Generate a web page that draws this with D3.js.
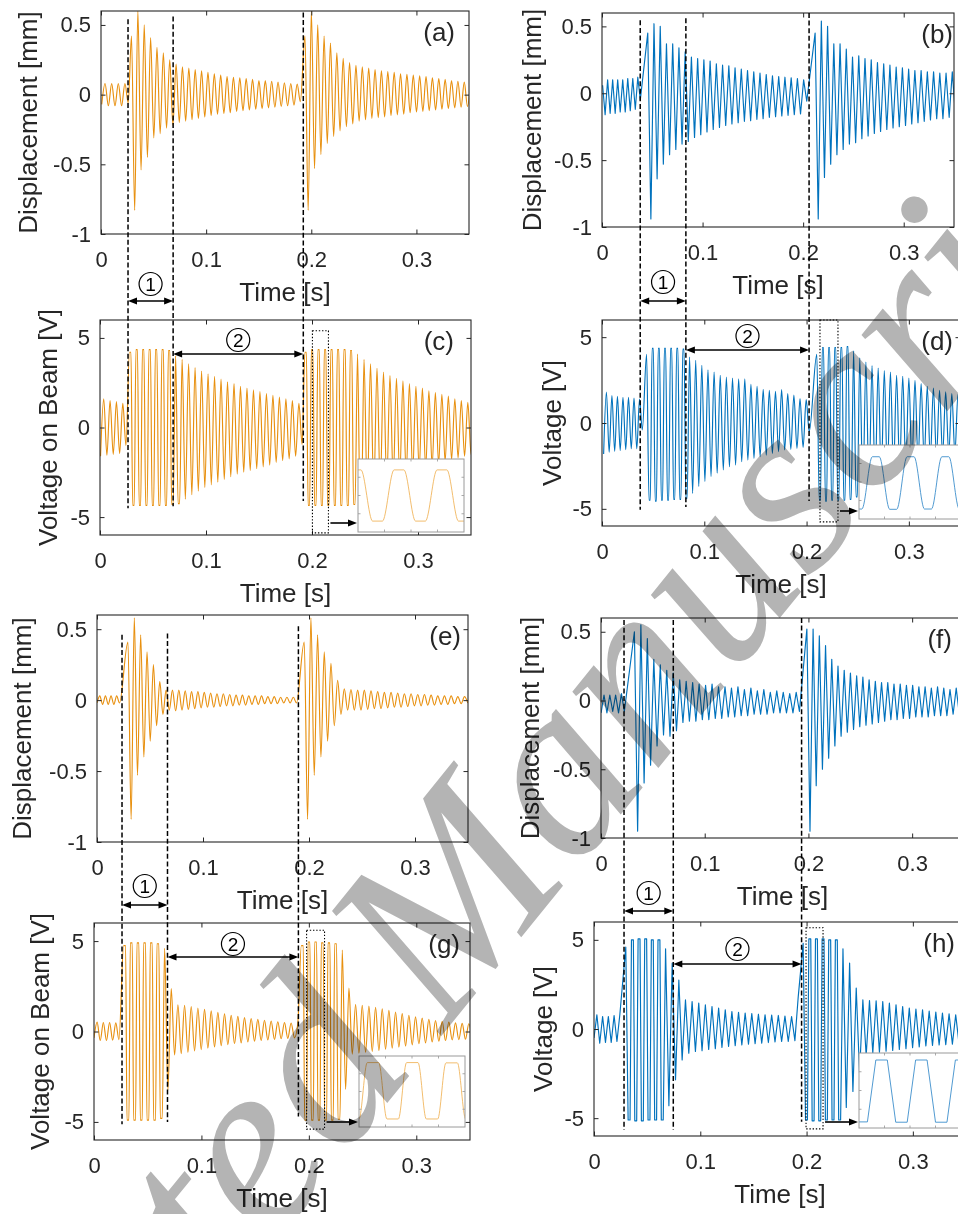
<!DOCTYPE html>
<html>
<head>
<meta charset="utf-8">
<script src="https://cdn.jsdelivr.net/npm/d3@7/dist/d3.min.js"></script>
<style>
  html, body { margin: 0; padding: 0; background: #fff; }
  svg { display: block; }
</style>
</head>
<body>
<svg id="fig" width="958" height="1214"></svg>
<script>
// ---------- axis ticks ----------
const timeTicks = [0, 0.1, 0.2, 0.3];
const dispTicks = [-1, -0.5, 0, 0.5];
const voltTicks = [-5, 0, 5];

// Each record is split into three stretches: before the first impact,
// first impact + free decay, second impact + free decay.
// Values are successive peaks / troughs; stretch start time and half period given separately.

// (a) displacement, simulation
const aStart = [0.0007, 0.0290, 0.1940];
const aHalf  = [0.00315, 0.00303, 0.00303];
const aPre  = [-0.07, 0.08, -0.08, 0.08, -0.08, 0.08, -0.08, 0.08, -0.06];
const aHit1 = [0.42, -0.83, 0.60, -0.54, 0.50, -0.45, 0.41, -0.31, 0.34, -0.28,
  0.30, -0.24, 0.25, -0.22, 0.22, -0.20, 0.20, -0.19, 0.19, -0.18,
  0.18, -0.17, 0.17, -0.16, 0.16, -0.15, 0.15, -0.14, 0.14, -0.135,
  0.13, -0.13, 0.125, -0.12, 0.12, -0.115, 0.115, -0.11, 0.11, -0.105,
  0.10, -0.10, 0.10, -0.095, 0.095, -0.09, 0.09, -0.085, 0.085, -0.08,
  0.08, -0.075, 0.075, -0.05];
const aHit2 = [0.42, -0.83, 0.60, -0.53, 0.50, -0.43, 0.42, -0.35, 0.37, -0.30,
  0.30, -0.26, 0.26, -0.23, 0.23, -0.21, 0.21, -0.19, 0.20, -0.18,
  0.19, -0.17, 0.18, -0.165, 0.17, -0.16, 0.165, -0.15, 0.16, -0.145,
  0.15, -0.14, 0.145, -0.13, 0.14, -0.125, 0.135, -0.12, 0.13, -0.115,
  0.12, -0.11, 0.115, -0.105, 0.11, -0.10, 0.10, -0.095, 0.095, -0.09,
  0.09, -0.085, 0.09];

// (b) displacement, experiment
const bStart = [0.0006, 0.0455, 0.2119];
const bHalf  = [0.0025, 0.0031, 0.0031];
const bPre  = [0.06, -0.16, 0.10, -0.15, 0.10, -0.15, 0.10, -0.14, 0.10, -0.14, 0.11, -0.13, 0.11, -0.12, 0.12, -0.05];
const bHit1 = [0.45, -0.94, 0.52, -0.64, 0.50, -0.53, 0.37, -0.46, 0.37, -0.42,
  0.34, -0.38, 0.31, -0.36, 0.27, -0.33, 0.26, -0.31, 0.25, -0.29,
  0.24, -0.27, 0.22, -0.255, 0.21, -0.24, 0.205, -0.23, 0.19, -0.22,
  0.18, -0.21, 0.17, -0.205, 0.16, -0.195, 0.15, -0.19, 0.14, -0.18,
  0.13, -0.175, 0.125, -0.17, 0.12, -0.165, 0.115, -0.16, 0.11, -0.155,
  0.10, -0.06];
const bHit2 = [0.45, -0.94, 0.54, -0.63, 0.50, -0.53, 0.37, -0.46, 0.37, -0.42,
  0.33, -0.38, 0.27, -0.37, 0.28, -0.34, 0.26, -0.32, 0.25, -0.30,
  0.23, -0.285, 0.22, -0.27, 0.21, -0.26, 0.195, -0.25, 0.19, -0.24,
  0.18, -0.23, 0.17, -0.22, 0.17, -0.21, 0.16, -0.20, 0.16, -0.19,
  0.15, -0.19, 0.15, -0.18, 0.16, -0.16];

// (c) voltage on beam, simulation
const cStart = [0.0005, 0.0285, 0.1940];
const cHalf  = [0.0030, 0.00306, 0.00306];
const cPre  = [-1.6, 1.6, -1.55, 1.5, -1.5, 1.45, -1.45, 1.35, -1.0];
const cHit1 = [4.2, -4.35, 4.35, -4.35, 4.35, -4.35, 4.35, -4.35, 4.35, -4.35, 4.35, -4.35, 4.3, -4.3,
  4.0, -4.25, 3.8, -4.0, 3.55, -3.75, 3.35, -3.55, 3.15, -3.35, 3.0, -3.2, 2.85, -3.05, 2.7, -2.9,
  2.55, -2.75, 2.45, -2.6, 2.3, -2.5, 2.2, -2.4, 2.1, -2.3, 2.0, -2.2, 1.9, -2.1, 1.8, -1.95,
  1.7, -1.85, 1.6, -1.75, 1.5, -1.6, 1.35, -0.95];
const cHit2 = [4.2, -4.35, 4.35, -4.35, 4.35, -4.35, 4.35, -4.35, 4.35, -4.35, 4.35, -4.35, 4.35, -4.35, 4.3, -4.3,
  4.1, -4.2, 3.8, -3.9, 3.55, -3.65, 3.3, -3.4, 3.1, -3.2, 2.9, -3.0, 2.75, -2.85, 2.6, -2.7,
  2.45, -2.55, 2.3, -2.4, 2.2, -2.3, 2.05, -2.15, 1.95, -2.05, 1.85, -1.9, 1.75, -1.8, 1.6, -1.7,
  1.5, -1.6, 1.4, -1.5, 1.35];

// (d) voltage, experiment
const dStart = [0.0016, 0.0436, 0.2100];
const dHalf  = [0.0027, 0.0030, 0.0030];
const dPre  = [-1.8, 1.8, -1.7, 1.6, -1.65, 1.55, -1.6, 1.5, -1.55, 1.5, -1.5, 1.45, -1.5, 1.4, -0.4];
const dHit1 = [4.0, -4.5, 4.35, -4.55, 4.35, -4.5, 4.35, -4.5, 4.35, -4.45, 4.35, -4.45, 4.3, -4.4,
  3.84, -4.1, 3.65, -3.7, 3.36, -3.41, 3.1, -3.12, 2.97, -2.93, 2.78, -2.74, 2.68, -2.55, 2.62, -2.45,
  2.58, -2.26, 2.58, -2.16, 2.25, -2.06, 2.14, -1.96, 1.96, -1.87, 1.9, -1.77, 1.85, -1.67, 1.94, -1.57,
  1.71, -1.54, 1.62, -1.48, 1.42, -1.42, 1.36, -0.5];
const dHit2 = [4.0, -4.5, 4.4, -4.55, 4.4, -4.5, 4.4, -4.5, 4.4, -4.5, 4.45, -4.45, 4.2, -4.3,
  3.8, -4.1, 3.55, -3.8, 3.35, -3.5, 3.2, -3.25, 3.06, -3.0, 2.97, -2.85, 2.78, -2.7, 2.72, -2.55,
  2.62, -2.4, 2.49, -2.3, 2.3, -2.2, 2.14, -2.1, 2.04, -2.0, 1.91, -1.9, 1.81, -1.85, 1.71, -1.8,
  1.65, -1.75];

// (e) displacement, simulation with switching
const eStart = [0.0000, 0.0292, 0.1955];
const eHalf  = [0.00265, 0.0030, 0.00315];
const ePre  = [-0.02, 0.03, -0.03, 0.03, -0.03, 0.03, -0.03, 0.03, -0.02];
const eHit1 = [0.41, -0.84, 0.58, -0.53, 0.46, -0.40, 0.34, -0.29, 0.25, -0.18,
  0.13, -0.10, 0.07, -0.07, 0.07, -0.075, 0.07, -0.07, 0.065, -0.065,
  0.06, -0.06, 0.06, -0.055, 0.055, -0.05, 0.05, -0.05, 0.045, -0.045,
  0.045, -0.04, 0.04, -0.04, 0.035, -0.035, 0.035, -0.035, 0.03, -0.03,
  0.03, -0.03, 0.03, -0.025, 0.025, -0.025, 0.025, -0.025, 0.02, -0.02,
  0.02, -0.02, 0.02, -0.02];
const eHit2 = [0.41, -0.84, 0.58, -0.53, 0.46, -0.40, 0.34, -0.29, 0.26, -0.18,
  0.14, -0.10, 0.08, -0.07, 0.075, -0.07, 0.07, -0.07, 0.07, -0.065,
  0.065, -0.06, 0.06, -0.06, 0.055, -0.055, 0.055, -0.05, 0.05, -0.05,
  0.045, -0.045, 0.045, -0.04, 0.04, -0.04, 0.04, -0.035, 0.035, -0.035,
  0.03, -0.03, 0.03, -0.03, 0.03, -0.025, 0.025, -0.025, 0.025, -0.02];

// (f) displacement, experiment with switching
const fStart = [0.0001, 0.0322, 0.1985];
const fHalf  = [0.0028, 0.00312, 0.0030];
const fPre  = [-0.09, 0.04, -0.09, 0.04, -0.08, 0.04, -0.09, 0.05, -0.08];
const fHit1 = [0.50, -0.95, 0.55, -0.60, 0.45, -0.47, 0.30, -0.33, 0.26, -0.25,
  0.22, -0.26, 0.20, -0.22, 0.15, -0.16, 0.14, -0.15, 0.13, -0.15,
  0.12, -0.14, 0.11, -0.14, 0.12, -0.13, 0.10, -0.13, 0.10, -0.12,
  0.09, -0.12, 0.10, -0.11, 0.08, -0.11, 0.09, -0.10, 0.07, -0.10,
  0.08, -0.10, 0.06, -0.09, 0.07, -0.09, 0.06, -0.09, 0.05, -0.09,
  0.06, -0.08];
const fHit2 = [0.52, -0.95, 0.52, -0.62, 0.47, -0.50, 0.40, -0.42, 0.30, -0.33,
  0.25, -0.26, 0.22, -0.23, 0.20, -0.21, 0.18, -0.19, 0.17, -0.18,
  0.15, -0.17, 0.14, -0.16, 0.13, -0.15, 0.13, -0.14, 0.12, -0.14,
  0.12, -0.13, 0.11, -0.13, 0.11, -0.12, 0.10, -0.12, 0.10, -0.12,
  0.09, -0.11, 0.10, -0.11, 0.09, -0.11, 0.08, -0.10, 0.09, -0.10,
  0.08, -0.10];

// (g) voltage on beam, simulation with switching
const gStart = [0.0000, 0.0285, 0.1939];
const gHalf  = [0.0029, 0.0031, 0.0031];
const gPre  = [-0.35, 0.52, -0.50, 0.50, -0.50, 0.50, -0.48, 0.48, -0.45];
const gHit1 = [4.75, -4.9, 4.9, -4.9, 4.9, -4.9, 4.9, -4.9, 4.9, -4.9, 4.85, -4.8, 4.6, -3.25,
  2.37, -1.30, 1.48, -1.22, 1.45, -1.15, 1.38, -1.07, 1.30, -1.00, 1.22, -0.92, 1.14, -0.85,
  1.06, -0.78, 0.98, -0.73, 0.90, -0.68, 0.84, -0.63, 0.77, -0.58, 0.72, -0.54, 0.67, -0.50,
  0.62, -0.47, 0.58, -0.44, 0.54, -0.40, 0.50, -0.38, 0.47, -0.35, 0.44];
const gHit2 = [4.75, -4.9, 4.95, -4.9, 4.95, -4.9, 4.9, -4.9, 4.9, -4.9, 4.85, -4.85, 4.5, -3.2, 2.4, -1.25,
  1.5, -1.2, 1.45, -1.15, 1.4, -1.1, 1.33, -1.05, 1.25, -0.98, 1.17, -0.92, 1.08, -0.86, 0.99, -0.8,
  0.9, -0.74, 0.81, -0.68, 0.74, -0.63, 0.67, -0.58, 0.61, -0.54, 0.56, -0.5, 0.52, -0.47,
  0.48, -0.45, 0.45, -0.43, 0.43, -0.42];

// (h) voltage, experiment with switching
const hStart = [0.0000, 0.0299, 0.1968];
const hHalf  = [0.0027, 0.00312, 0.00312];
const hPre  = [-0.5, 0.8, -0.8, 0.7, -0.75, 0.7, -0.75, 0.75, -0.7, 0.8];
const hHit1 = [4.6, -5.1, 5.0, -5.15, 5.05, -5.15, 5.05, -5.1, 5.0, -5.1, 5.0, -5.1, 4.5, -4.3, 3.7, -2.85, 2.75, -1.73,
  1.63, -1.36, 1.54, -1.26, 1.45, -1.22, 1.35, -1.15, 1.26, -1.11, 1.17, -1.04, 1.07, -0.98,
  0.98, -0.93, 0.93, -0.89, 0.89, -0.85, 0.86, -0.82, 0.83, -0.79, 0.8, -0.76, 0.78, -0.73,
  0.76, -0.7, 0.72, -0.7, 0.7, -0.65, 1.8];
const hHit2 = [4.8, -5.1, 5.05, -5.15, 5.05, -5.15, 5.05, -5.1, 5.0, -5.1, 5.0, -5.1, 4.5, -4.4, 3.7, -3.5, 2.3, -2.5, 1.63,
  -1.5, 1.6, -1.35, 1.58, -1.3, 1.54, -1.25, 1.45, -1.2, 1.36, -1.15, 1.26, -1.1, 1.17, -1.05,
  1.12, -1.0, 1.07, -0.95, 1.0, -0.92, 0.95, -0.9, 0.89, -0.88, 0.85, -0.85, 0.8, -0.82, 0.75,
  -0.8, 0.72, -0.78];

// impact / release instants marked by dashed lines (s)
const acMarks = [0.0257, 0.0686, 0.1924];
const acTop = [0.54, 0.56, 0.59], acBottom = [-4.5, -4.4, -4.1];
const bdMarks = [0.0380, 0.0834, 0.2059];
const bdTop = [0.545, 0.56, 0.60], bdBottom = [-5.06, -4.9, -4.55];
const egMarks = [0.0236, 0.0665, 0.1900];
const egTop = [0.46, 0.47, 0.52], egBottom = [-5.13, -5.0, -4.7];
const fhMarks = [0.0222, 0.0697, 0.1934];
const fhTop = [0.585, 0.585, 0.60], fhBottom = [-5.65, -5.65, -5.2];

// magnified windows (time span, voltage span)
const cWindow = [0.2004, 0.2155], cWinV = [-5.88, 5.4];
const dWindow = [0.2131, 0.2307], dWinV = [-5.76, 6.0];
const gWindow = [0.1979, 0.2146], gWinV = [-5.4, 5.6];
const hWindow = [0.1995, 0.2155], hWinV = [-5.6, 5.68];

// ---------- drawing ----------
const ORANGE = "#E8900F", BLUE = "#0072BD", INK = "#262626";
const FONT = "'Liberation Sans', Arial, Helvetica, sans-serif";
const svg = d3.select("#fig");
const defs = svg.append("defs");
svg.append("rect").attr("width", 958).attr("height", 1214).attr("fill", "#fff");

// peaks -> vertices; clipped (saturated) peaks become short flat tops
function seriesPoints(starts, halves, segs, sat, w) {
  const pts = [];
  segs.forEach((vals, i) => {
    vals.forEach((v, k) => {
      const t = starts[i] + k * halves[i];
      if (sat != null && Math.abs(v) >= sat) { pts.push([t - w, v]); pts.push([t + w, v]); }
      else pts.push([t, v]);
    });
  });
  return pts;
}

const panels = [
  { key: "a", box: [101, 469, 11, 234], yDom: [-1, 0.6], yTicks: dispTicks, ylabel: "Displacement [mm]", yoff: 73,
    color: ORANGE, curve: d3.curveMonotoneX, start: aStart, half: aHalf, segs: [aPre, aHit1, aHit2], letter: "(a)", lx: 455 },
  { key: "b", box: [602, 954, 13, 227], yDom: [-1, 0.6], yTicks: dispTicks, ylabel: "Displacement [mm]", yoff: 70,
    color: BLUE, curve: d3.curveLinear, start: bStart, half: bHalf, segs: [bPre, bHit1, bHit2], letter: "(b)", lx: 953 },
  { key: "c", box: [100, 471, 320, 535], yDom: [-6, 6], yTicks: voltTicks, ylabel: "Voltage on Beam [V]", yoff: 52,
    color: ORANGE, curve: d3.curveMonotoneX, start: cStart, half: cHalf, segs: [cPre, cHit1, cHit2], sat: 4.15, w: 0.0007, letter: "(c)", lx: 454 },
  { key: "d", box: [602, 960, 320, 526], yDom: [-6, 6], yTicks: voltTicks, ylabel: "Voltage [V]", yoff: 50,
    color: BLUE, curve: d3.curveMonotoneX, start: dStart, half: dHalf, segs: [dPre, dHit1, dHit2], sat: 4.3, w: 0.0006, letter: "(d)", lx: 953 },
  { key: "e", box: [97, 468, 615, 842], yDom: [-1, 0.6], yTicks: dispTicks, ylabel: "Displacement [mm]", yoff: 75,
    color: ORANGE, curve: d3.curveMonotoneX, start: eStart, half: eHalf, segs: [ePre, eHit1, eHit2], letter: "(e)", lx: 461 },
  { key: "f", box: [601, 964, 618, 838], yDom: [-1, 0.6], yTicks: dispTicks, ylabel: "Displacement [mm]", yoff: 71,
    color: BLUE, curve: d3.curveLinear, start: fStart, half: fHalf, segs: [fPre, fHit1, fHit2], letter: "(f)", lx: 952 },
  { key: "g", box: [94, 470, 923, 1140], yDom: [-6, 6], yTicks: voltTicks, ylabel: "Voltage on Beam [V]", yoff: 54,
    color: ORANGE, curve: d3.curveMonotoneX, start: gStart, half: gHalf, segs: [gPre, gHit1, gHit2], sat: 4.7, w: 0.0009, letter: "(g)", lx: 460 },
  { key: "h", box: [594, 966, 922, 1136], yDom: [-6, 6], yTicks: voltTicks, ylabel: "Voltage [V]", yoff: 51,
    color: BLUE, curve: d3.curveLinear, start: hStart, half: hHalf, segs: [hPre, hHit1, hHit2], sat: 4.9, w: 0.0009, letter: "(h)", lx: 955 }
];

const scales = {};

function styleAxis(sel) {
  sel.select(".domain").remove();
  sel.selectAll(".tick line").attr("stroke", INK).attr("stroke-width", 1);
  sel.selectAll(".tick text").attr("fill", INK);
  sel.attr("font-size", 22).attr("font-family", FONT);
}

panels.forEach(p => {
  const [x0, x1, y0, y1] = p.box;
  const x = d3.scaleLinear().domain([0, 0.35]).range([x0, x1]);
  const y = d3.scaleLinear().domain(p.yDom).range([y1, y0]);
  scales[p.key] = { x, y };
  const g = svg.append("g");

  defs.append("clipPath").attr("id", "clip-" + p.key)
    .append("rect").attr("x", x0).attr("y", y0).attr("width", x1 - x0).attr("height", y1 - y0);

  const pts = seriesPoints(p.start, p.half, p.segs, p.sat, p.w || 0);
  p.points = pts;
  const line = d3.line().x(d => x(d[0])).y(d => y(d[1])).curve(p.curve);
  g.append("path").datum(pts)
    .attr("clip-path", "url(#clip-" + p.key + ")")
    .attr("d", line).attr("fill", "none")
    .attr("stroke", p.color).attr("stroke-width", 1.15).attr("stroke-linejoin", "round");

  const fmt = d => String(d);
  g.append("g").attr("transform", `translate(0,${y1})`)
    .call(d3.axisBottom(x).tickValues(timeTicks).tickFormat(fmt).tickSizeInner(-4.5).tickSizeOuter(0).tickPadding(17))
    .call(styleAxis);
  g.append("g").attr("transform", `translate(0,${y0})`)
    .call(d3.axisTop(x).tickValues(timeTicks).tickFormat("").tickSizeInner(-4.5).tickSizeOuter(0))
    .call(styleAxis);
  g.append("g").attr("transform", `translate(${x0},0)`)
    .call(d3.axisLeft(y).tickValues(p.yTicks).tickFormat(fmt).tickSizeInner(-4.5).tickSizeOuter(0).tickPadding(10))
    .call(styleAxis);
  g.append("g").attr("transform", `translate(${x1},0)`)
    .call(d3.axisRight(y).tickValues(p.yTicks).tickFormat("").tickSizeInner(-4.5).tickSizeOuter(0))
    .call(styleAxis);

  g.append("rect").attr("x", x0).attr("y", y0).attr("width", x1 - x0).attr("height", y1 - y0)
    .attr("fill", "none").attr("stroke", INK).attr("stroke-width", 1.1);

  g.append("text").attr("x", (x0 + x1) / 2).attr("y", y1 + 67)
    .attr("text-anchor", "middle").attr("font-family", FONT).attr("font-size", 26).attr("fill", INK)
    .text("Time [s]");
  g.append("text")
    .attr("transform", `translate(${x0 - p.yoff},${(y0 + y1) / 2}) rotate(-90)`)
    .attr("dy", "0.35em").attr("text-anchor", "middle")
    .attr("font-family", FONT).attr("font-size", 26).attr("fill", INK)
    .text(p.ylabel);
  g.append("text").attr("x", p.lx).attr("y", y0 + 30).attr("text-anchor", "end")
    .attr("font-family", FONT).attr("font-size", 26).attr("fill", INK).text(p.letter);
});

// ---------- annotations ----------
const ann = svg.append("g");

function arrowHead(x, y, dir) {
  const L = 9, Hh = 3.6;
  ann.append("path")
    .attr("d", `M${x},${y} L${x - dir * L},${y - Hh} L${x - dir * L},${y + Hh} Z`)
    .attr("fill", "#000");
}
function doubleArrow(xa, xb, y) {
  ann.append("line").attr("x1", xa + 4).attr("x2", xb - 4).attr("y1", y).attr("y2", y)
    .attr("stroke", "#000").attr("stroke-width", 1.6);
  arrowHead(xa, y, -1);
  arrowHead(xb, y, 1);
}
function singleArrow(xa, xb, y) {
  ann.append("line").attr("x1", xa).attr("x2", xb - 4).attr("y1", y).attr("y2", y)
    .attr("stroke", "#000").attr("stroke-width", 1.6);
  arrowHead(xb, y, 1);
}
function circled(cx, cy, label) {
  ann.append("circle").attr("cx", cx).attr("cy", cy).attr("r", 11.5)
    .attr("fill", "none").attr("stroke", "#000").attr("stroke-width", 1.2);
  ann.append("text").attr("x", cx).attr("y", cy).attr("dy", "0.36em").attr("text-anchor", "middle")
    .attr("font-family", FONT).attr("font-size", 19).attr("fill", "#000").text(label);
}

function markLines(marks, tops, bottoms, upper, lower) {
  const xs = scales[upper].x, yu = scales[upper].y, yl = scales[lower].y;
  marks.forEach((t, i) => {
    ann.append("line")
      .attr("x1", xs(t)).attr("x2", xs(t))
      .attr("y1", yu(tops[i])).attr("y2", yl(bottoms[i]))
      .attr("stroke", "#000").attr("stroke-width", 1.5).attr("stroke-dasharray", "5,2.6");
  });
  return marks.map(t => xs(t));
}

function annotatePair(marks, tops, bottoms, upper, lower, y1Arrow, y1Circle, y2Arrow, y2Circle) {
  const xs = markLines(marks, tops, bottoms, upper, lower);
  doubleArrow(xs[0], xs[1], y1Arrow);
  circled((xs[0] + xs[1]) / 2, y1Circle, "1");
  doubleArrow(xs[1], xs[2], y2Arrow);
  circled((xs[1] + xs[2]) / 2, y2Circle, "2");
}

annotatePair(acMarks, acTop, acBottom, "a", "c", 301, 284, 354, 340);
annotatePair(bdMarks, bdTop, bdBottom, "b", "d", 301, 282, 350, 336);
annotatePair(egMarks, egTop, egBottom, "e", "g", 905, 886, 957, 944);
annotatePair(fhMarks, fhTop, fhBottom, "f", "h", 911, 893, 964, 949);

// magnified insets
function inset(key, win, winV, box, yDom, arrowY, lineColor) {
  const p = panels.find(q => q.key === key);
  const { x, y } = scales[key];
  const rx0 = x(win[0]), rx1 = x(win[1]);
  ann.append("rect").attr("x", rx0).attr("y", y(winV[1]))
    .attr("width", rx1 - rx0).attr("height", y(winV[0]) - y(winV[1]))
    .attr("fill", "none").attr("stroke", "#000").attr("stroke-width", 1.1).attr("stroke-dasharray", "1.4,1.8");

  const [bx0, by0, bx1, by1] = box;
  const ix = d3.scaleLinear().domain(win).range([bx0, bx1]);
  const iy = d3.scaleLinear().domain(yDom).range([by1, by0]);
  const ig = ann.append("g");
  ig.append("rect").attr("x", bx0).attr("y", by0).attr("width", bx1 - bx0).attr("height", by1 - by0).attr("fill", "#fff");
  defs.append("clipPath").attr("id", "iclip-" + key)
    .append("rect").attr("x", bx0).attr("y", by0).attr("width", bx1 - bx0).attr("height", by1 - by0);
  const line = d3.line().x(d => ix(d[0])).y(d => iy(d[1])).curve(p.curve);
  ig.append("path").datum(p.points.filter(d => d[0] > win[0] - 0.01 && d[0] < win[1] + 0.01))
    .attr("clip-path", "url(#iclip-" + key + ")")
    .attr("d", line).attr("fill", "none").attr("stroke", lineColor).attr("stroke-width", 0.9);
  const tx = [0.25, 0.5, 0.75].map(f => bx0 + f * (bx1 - bx0));
  const ty = [0.25, 0.5, 0.75].map(f => by0 + f * (by1 - by0));
  tx.forEach(v => {
    ig.append("line").attr("x1", v).attr("x2", v).attr("y1", by1).attr("y2", by1 - 2.5).attr("stroke", "#aaa");
    ig.append("line").attr("x1", v).attr("x2", v).attr("y1", by0).attr("y2", by0 + 2.5).attr("stroke", "#aaa");
  });
  ty.forEach(v => {
    ig.append("line").attr("x1", bx0).attr("x2", bx0 + 2.5).attr("y1", v).attr("y2", v).attr("stroke", "#aaa");
    ig.append("line").attr("x1", bx1).attr("x2", bx1 - 2.5).attr("y1", v).attr("y2", v).attr("stroke", "#aaa");
  });
  ig.append("rect").attr("x", bx0).attr("y", by0).attr("width", bx1 - bx0).attr("height", by1 - by0)
    .attr("fill", "none").attr("stroke", "#9a9a9a").attr("stroke-width", 1);
  singleArrow(rx1 + 2, bx0 - 1, arrowY);
}

inset("c", cWindow, cWinV, [358, 459, 464, 532], [-6.2, 6.2], 523, "#F0B65E");
inset("d", dWindow, dWinV, [859, 445, 961, 519], [-6.2, 6.4], 511, "#3D8FCC");
inset("g", gWindow, gWinV, [359, 1056, 465, 1127], [-6.3, 6.1], 1122, "#F0B65E");
inset("h", hWindow, hWinV, [859, 1053, 961, 1128], [-6.1, 6.2], 1122, "#3D8FCC");

// ---------- diagonal watermark ----------
const wm = svg.append("g")
  .attr("transform", "translate(443,1034) rotate(-51)")
  .style("mix-blend-mode", "multiply");
wm.append("text").attr("x", -38).attr("y", 0).attr("text-anchor", "end")
  .attr("font-family", "'Liberation Serif', 'Times New Roman', serif").attr("font-style", "italic")
  .attr("font-size", 250).attr("fill", "#b4b4b4").text("Accepted");
wm.append("text").attr("x", 0).attr("y", 0).attr("text-anchor", "start")
  .attr("font-family", "'Liberation Serif', 'Times New Roman', serif").attr("font-style", "italic")
  .attr("font-size", 250).attr("fill", "#b4b4b4").text("Manuscript");
</script>
</body>
</html>
